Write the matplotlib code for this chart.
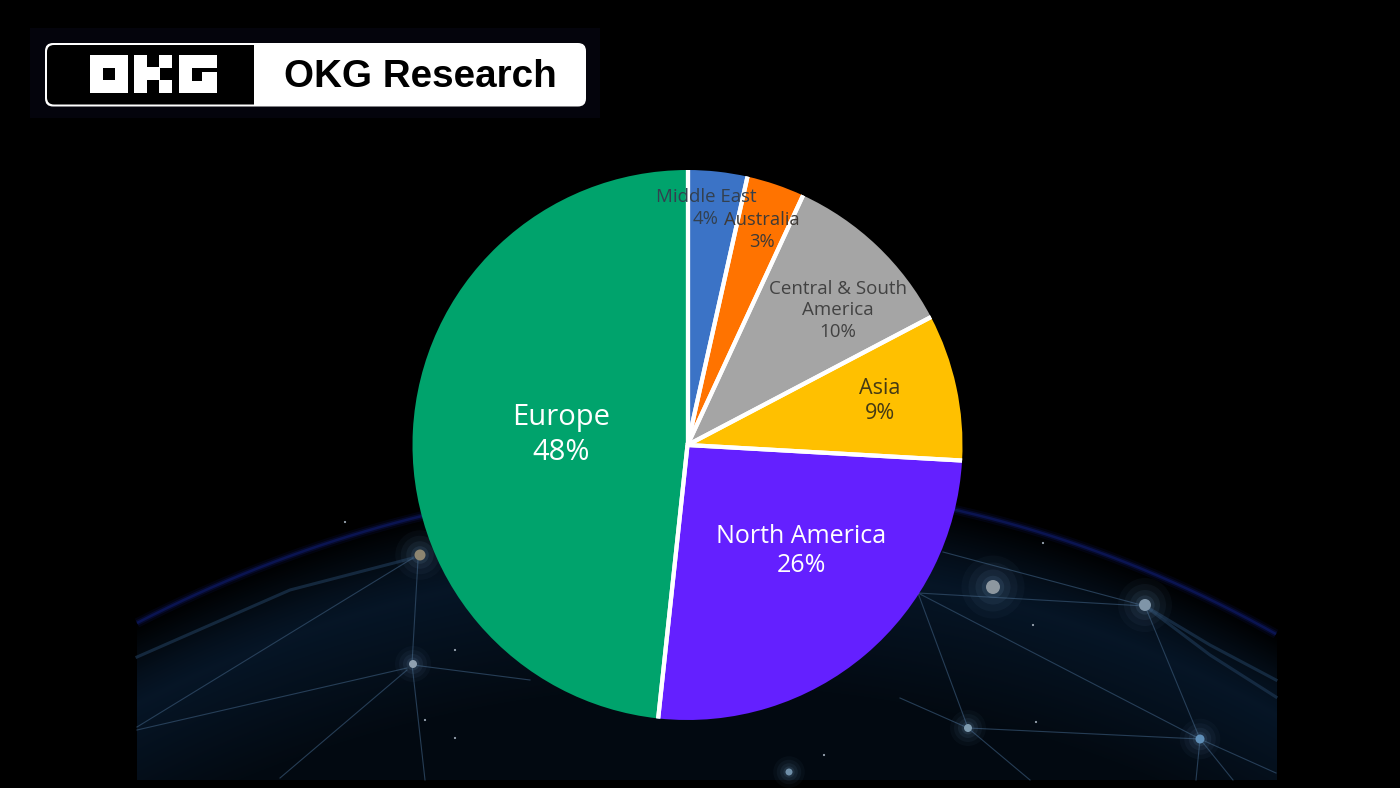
import numpy as np
import matplotlib
matplotlib.use("Agg")
import matplotlib.pyplot as plt
from matplotlib.patches import FancyBboxPatch, Rectangle, Circle

W, H = 1400, 788

regions = ["Middle East", "Australia", "Central & South\nAmerica", "Asia", "North America", "Europe"]
shares = [3.5, 3.4, 10.4, 8.6, 25.8, 48.3]
pct_labels = ["4%", "3%", "10%", "9%", "26%", "48%"]
colors = ["#3b73c6", "#ff7300", "#a5a5a5", "#ffc000", "#6420ff", "#00a36c"]

label_pos = [(706, 208), (762, 231), (838, 310), (880, 401), (801, 551), (561, 435)]
label_size = [13.4, 13.2, 13.5, 15.5, 18, 21]
label_space = [1.25, 1.25, 1.25, 1.22, 1.25, 1.28]
label_color = ["#33404f", "#3f3a36", "#424242", "#453a14", "white", "white"]

# background picture: dome outline and the network on it (pixels from the top left)
arc_x = [137, 230, 330, 420, 955, 1067, 1167, 1276]
arc_y = [622, 582, 541, 516, 512, 538, 581, 634]
nodes = [(420, 555, 5.5, "#8d8570"), (413, 664, 4, "#8fa0b0"), (993, 587, 7, "#8d979f"),
         (1145, 605, 6, "#7f95a8"), (968, 728, 4, "#7f9cb0"), (1200, 739, 4.5, "#5f8fb8"),
         (789, 772, 3.5, "#6f8fa8")]
links = [((137, 727), (413, 558)), ((418, 560), (412, 664)), ((137, 730), (407, 668)),
         ((407, 670), (280, 778)), ((413, 665), (530, 680)), ((918, 593), (1145, 606)),
         ((918, 593), (1200, 739)), ((1145, 606), (1200, 739)), ((918, 593), (968, 728)),
         ((968, 728), (1200, 739)), ((900, 698), (968, 728)), ((1200, 739), (1276, 773)),
         ((1200, 739), (1233, 780)), ((968, 728), (1030, 780)), ((1200, 739), (1196, 780)),
         ((412, 664), (425, 780)), ((943, 552), (1145, 606))]
bands = [((137, 657), (290, 590), (413, 558)), ((1145, 606), (1210, 645), (1276, 680)),
         ((1145, 606), (1210, 655), (1276, 697))]
specks = [(455, 650), (345, 522), (1033, 625), (1036, 722), (425, 720), (455, 738), (1043, 543), (824, 755)]

fig = plt.figure(figsize=(W / 100, H / 100), dpi=100, facecolor="black")
ax = fig.add_axes([0, 0, 1, 1])
ax.set_facecolor("black")


def yy(y):
    return H - y


# smooth dome line through the points read above
fit = np.polyfit(arc_x, arc_y, 4)

# dome glow
gx, gy = np.meshgrid(np.arange(137, 1277), np.arange(480, 780))
depth = gy - np.polyval(fit, gx)
glow = np.clip(depth / 80, 0, 1) * np.clip(1.2 - depth / 260, 0.4, 1)
rgba = np.zeros(gx.shape + (4,))
rgba[..., 0] = 0.03
rgba[..., 1] = 0.095
rgba[..., 2] = 0.17
rgba[..., 3] = glow
ax.imshow(rgba, extent=[137, 1277, yy(780), yy(480)], origin="upper", zorder=1, aspect="auto")

# arc with a soft edge
smooth_x = np.linspace(137, 1276, 300)
smooth_y = np.polyval(fit, smooth_x)
for lw, a in [(7, 0.1), (4, 0.2), (1.8, 0.35)]:
    ax.plot(smooth_x, yy(smooth_y), color="#16279a", lw=lw, alpha=a, zorder=2, solid_capstyle="butt")

for b in bands:
    ax.plot([p[0] for p in b], [yy(p[1]) for p in b], color="#1c3550", lw=2.2, alpha=0.7, zorder=2)
for a, b in links:
    ax.plot([a[0], b[0]], [yy(a[1]), yy(b[1])], color="#2f4a66", lw=0.8, alpha=0.8, zorder=2)
for x, y, r, c in nodes:
    for k, al in [(4.5, 0.05), (3.5, 0.07), (2.5, 0.1), (1.6, 0.15)]:
        ax.add_patch(Circle((x, yy(y)), r * k, color="#5f83a6", alpha=al, lw=0, zorder=3))
    ax.add_patch(Circle((x, yy(y)), r, color=c, lw=0, zorder=3))
for x, y in specks:
    ax.add_patch(Circle((x, yy(y)), 1.1, color="#9aa6b2", lw=0, zorder=3))

# pie
cx, cy, rad = 687.5, yy(445), 275
wedges, _ = ax.pie(shares, colors=colors, startangle=90, counterclock=False,
                   center=(cx, cy), radius=rad, frame=True,
                   wedgeprops={"linewidth": 0, "zorder": 5})
ax.set_xlim(0, W)
ax.set_ylim(0, H)
ax.set_aspect("auto")
clip = Rectangle((0, 0), 961, H, transform=ax.transData)
for w in wedges:
    w.set_zorder(5)
    w.set_clip_path(clip)
    for ang in (w.theta1, w.theta2):
        t = np.deg2rad(ang)
        ax.plot([cx, cx + rad * np.cos(t)], [cy, cy + rad * np.sin(t)], color="white",
                lw=3.0, zorder=6, solid_capstyle="butt", clip_path=clip)

for name, pct, pos, fs, sp, col in zip(regions, pct_labels, label_pos, label_size, label_space, label_color):
    ax.text(pos[0], yy(pos[1]), name + "\n" + pct, ha="center", va="center", fontsize=fs,
            color=col, family="Open Sans", linespacing=sp, zorder=7)

# logo
ax.add_patch(Rectangle((30, yy(118)), 570, 90, color="#04040c", lw=0, zorder=1))
ax.add_patch(FancyBboxPatch((45, yy(106.5)), 541, 63.5, boxstyle="round,pad=0,rounding_size=8",
                            fc="white", ec="none", zorder=8))
ax.add_patch(FancyBboxPatch((47, yy(104.5)), 225, 59.5, boxstyle="round,pad=0,rounding_size=7",
                            fc="black", ec="none", zorder=9))
ax.add_patch(Rectangle((254, yy(106)), 30, 63, color="white", lw=0, zorder=9.5))

cell = 12.7
glyphs = {
    90: ["###", "#.#", "###"],
    134: ["#.#", "##.", "#.#"],
    178.5: ["###", "###", "###"],
}
for x0, rows in glyphs.items():
    for r, row in enumerate(rows):
        for c, v in enumerate(row):
            if v == "#":
                ax.add_patch(Rectangle((x0 + c * cell, yy(55 + (r + 1) * cell)), cell + 0.3, cell + 0.3,
                                       color="white", lw=0, zorder=10))
# cut out of the G
ax.add_patch(Rectangle((191.5, yy(72)), 25, 4.5, color="black", lw=0, zorder=11))
ax.add_patch(Rectangle((191.5, yy(81)), 10, 9.5, color="black", lw=0, zorder=11))

ax.text(420.5, yy(77), "OKG Research", ha="center", va="center", fontsize=27.8, fontweight="bold",
        family="Liberation Sans", color="black", zorder=10)

ax.axis("off")
fig.savefig("out.png", dpi=100, facecolor="black")
